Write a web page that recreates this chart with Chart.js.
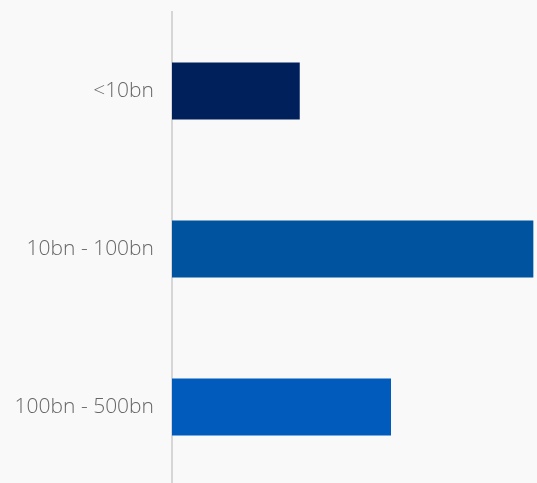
<!DOCTYPE html>
<html>
<head>
<meta charset="utf-8">
<script src="https://cdn.jsdelivr.net/npm/chart.js@4/dist/chart.umd.min.js"></script>
<style>
  html, body { margin: 0; padding: 0; background: #f9f9f9; overflow: hidden; }
  canvas { display: block; }
</style>
</head>
<body>
<canvas id="c" width="537" height="486"></canvas>
<script>
const categories = ["<10bn", "10bn - 100bn", "100bn - 500bn"];
const values = [35, 99, 60];
const barColors = ["#00205b", "#00539f", "#005bbd"];
const axisMax = 100;

new Chart(document.getElementById('c'), {
  type: 'bar',
  data: {
    labels: categories,
    datasets: [{
      data: values,
      backgroundColor: barColors,
      borderWidth: 0,
      barPercentage: 0.36,
      categoryPercentage: 1
    }]
  },
  options: {
    indexAxis: 'y',
    responsive: false,
    maintainAspectRatio: false,
    animation: false,
    layout: { padding: { top: 12, right: 0, bottom: 0, left: 0 } },
    plugins: { legend: { display: false }, tooltip: { enabled: false } },
    scales: {
      x: { display: false, min: 0, max: axisMax },
      y: {
        grid: { display: false, drawTicks: false },
        border: { display: true, color: '#d6d6d6', width: 2 },
        ticks: {
          color: '#666666',
          padding: 18,
          font: { family: 'Open Sans', size: 21, weight: '300' }
        },
        afterFit: function(scale) {
          scale.width = 172;
          scale.paddingTop = 0;
          scale.paddingBottom = 0;
        }
      }
    }
  }
});
</script>
</body>
</html>
